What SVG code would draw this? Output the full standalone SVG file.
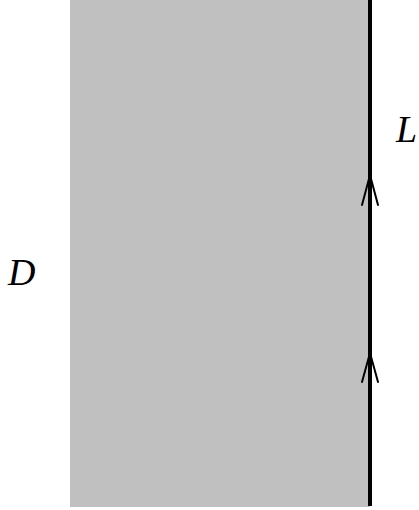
<svg xmlns="http://www.w3.org/2000/svg" width="419" height="510" viewBox="0 0 419 510">
<style>
.lbl{font-family:"Liberation Serif","DejaVu Serif",serif;font-style:italic;font-size:38px;fill:#000}
.arr{fill:none;stroke:#000;stroke-width:2;stroke-linecap:round;stroke-linejoin:round}
</style>
<g id="region"><rect x="70" y="0" width="300" height="507" fill="#c0c0c0"/></g>
<g id="connectors">
<line x1="370" y1="0" x2="370" y2="506" stroke="#000" stroke-width="4"/>
<polyline class="arr" points="362,205 370,175 378,205"/>
<polyline class="arr" points="362,382 370,353 378,382"/>
</g>
<g id="labelD"><text class="lbl" x="8" y="285">D</text></g>
<g id="labelL"><text class="lbl" x="396" y="142">L</text></g>
</svg>
